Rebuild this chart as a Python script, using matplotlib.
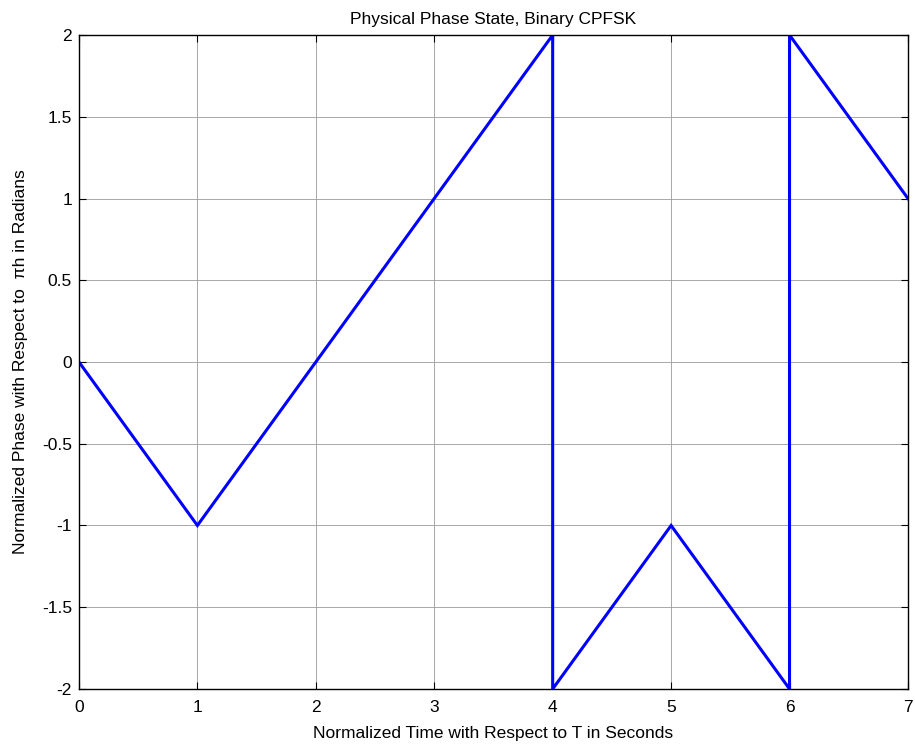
#!/usr/bin/env python3

import matplotlib
matplotlib.use("Agg")
import matplotlib.pyplot as plt

# data: phase trajectory corners
time_pts = [0, 1, 4, 4, 5, 6, 6, 7]
phase_pts = [0, -1, 2, -2, -1, -2, 2, 1]

x_ticks = [0, 1, 2, 3, 4, 5, 6, 7]
y_ticks = [-2, -1.5, -1, -0.5, 0, 0.5, 1, 1.5, 2]
y_tick_labels = ["-2", "-1.5", "-1", "-0.5", "0", "0.5", "1", "1.5", "2"]

plt.rcParams["font.family"] = ["Liberation Sans", "DejaVu Sans"]
plt.rcParams["font.size"] = 12.5

fig = plt.figure(figsize=(9.15, 7.45), dpi=100)
ax = fig.add_axes([0.0863, 0.0752, 0.906, 0.8778])

ax.plot(time_pts, phase_pts, color="#0000ff", linewidth=2.2, solid_joinstyle="miter")

ax.set_xlim(0, 7)
ax.set_ylim(-2, 2)
ax.set_xticks(x_ticks)
ax.set_yticks(y_ticks)
ax.set_yticklabels(y_tick_labels)

# MATLAB-like ticks: inside, all four sides
ax.tick_params(direction="in", top=True, right=True, length=5, width=0.8, labelsize=12.5, pad=5)
ax.tick_params(axis="x", pad=8)

# grid lines
ax.grid(True, color="#9a9a9a", linewidth=0.6, linestyle="-")
ax.set_axisbelow(True)

for sp in ax.spines.values():
    sp.set_linewidth(1.0)
    sp.set_color("black")

ax.set_title("Physical Phase State, Binary CPFSK", fontsize=12.5, pad=8)
ax.set_xlabel("Normalized Time with Respect to T in Seconds", fontsize=12.5, labelpad=8)
ax.set_ylabel("Normalized Phase with Respect to  \u03c0h in Radians", fontsize=12.5, labelpad=10)

fig.savefig("out.png", dpi=100)
